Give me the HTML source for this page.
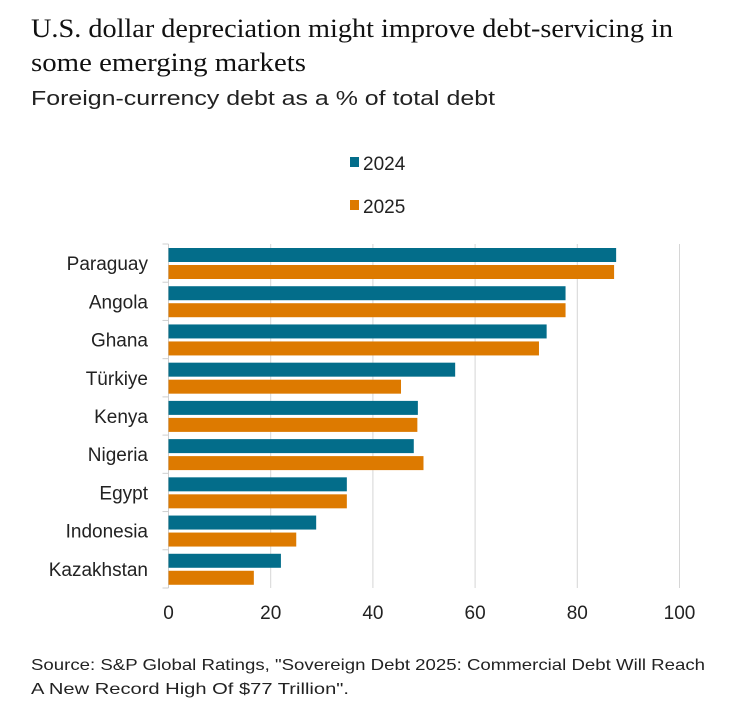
<!DOCTYPE html>
<html><head><meta charset="utf-8"><style>
html,body{margin:0;padding:0;background:#fff;}
svg{display:block;font-family:"Liberation Sans",sans-serif;}
</style></head><body>
<svg id="chart" width="734" height="714" viewBox="0 0 734 714" xmlns="http://www.w3.org/2000/svg">
<rect width="734" height="714" fill="#fff"/>
<text x="31" y="37" font-family="Liberation Serif, serif" font-size="26" fill="#111" textLength="642" lengthAdjust="spacingAndGlyphs">U.S. dollar depreciation might improve debt-servicing in</text>
<text x="31" y="71" font-family="Liberation Serif, serif" font-size="26" fill="#111" textLength="275" lengthAdjust="spacingAndGlyphs">some emerging markets</text>
<text x="31" y="105" font-size="20" fill="#222" textLength="464" lengthAdjust="spacingAndGlyphs">Foreign-currency debt as a % of total debt</text>
<g>
<rect x="350" y="157" width="9" height="10" fill="#036d8a"/>
<text x="363" y="170" font-size="19" fill="#222">2024</text>
<rect x="350" y="200" width="9" height="10" fill="#dd7a00"/>
<text x="363" y="213" font-size="19" fill="#222">2025</text>
</g>
<g id="grid"></g>
<g id="bars"></g>
<g id="labels"></g>
<text x="31" y="670" font-size="16" fill="#222" textLength="674" lengthAdjust="spacingAndGlyphs">Source: S&amp;P Global Ratings, "Sovereign Debt 2025: Commercial Debt Will Reach</text>
<text x="31" y="694" font-size="16" fill="#222" textLength="318" lengthAdjust="spacingAndGlyphs">A New Record High Of $77 Trillion".</text>
</svg>
<script>
const categories = ["Paraguay","Angola","Ghana","Türkiye","Kenya","Nigeria","Egypt","Indonesia","Kazakhstan"];
const values2024 = [87.6,77.7,74.0,56.1,48.8,48.0,34.9,28.9,22.0];
const values2025 = [87.2,77.7,72.5,45.5,48.7,49.9,34.9,25.0,16.7];
const xTicks = [0,20,40,60,80,100];

const NS="http://www.w3.org/2000/svg";
const x0=168.5, x1=679.5, yTop=244, yBottom=588;
const xScale=v=>x0+(v/100)*(x1-x0);
const band=(yBottom-yTop)/categories.length;
const yBand=i=>yTop+i*band;
function mk(tag,attrs,parent){const e=document.createElementNS(NS,tag);for(const k in attrs)e.setAttribute(k,attrs[k]);parent.appendChild(e);return e;}
const grid=document.getElementById('grid'),bars=document.getElementById('bars'),labels=document.getElementById('labels');
xTicks.forEach(t=>{
  if(t>0){const l=mk('line',{x1:xScale(t),x2:xScale(t),y1:yTop,y2:yBottom,stroke:'#d6d6d6','stroke-width':1},grid);
  
  }
  const tx=mk('text',{x:xScale(t),y:619,'text-anchor':'middle','font-size':19,fill:'#222'},labels);
  tx.textContent=t;
  
  
});
const ax=mk('line',{x1:x0,x2:x0,y1:yTop,y2:yBottom,stroke:'#cfcfcf','stroke-width':1},grid);


for(let i=0;i<=categories.length;i++){
  const tk=mk('line',{x1:x0-6,x2:x0,y1:yBand(i),y2:yBand(i),stroke:'#cfcfcf','stroke-width':1},grid);
  
  
}
categories.forEach((c,i)=>{
  const y=yBand(i);
  const b1=mk('rect',{x:x0,y:y+4,width:xScale(values2024[i])-x0,height:14,fill:'#036d8a'},bars);
  
  
  const b2=mk('rect',{x:x0,y:y+21,width:xScale(values2025[i])-x0,height:14,fill:'#dd7a00'},bars);
  
  
  const t=mk('text',{x:148,y:y+band/2+7,'text-anchor':'end','font-size':19,fill:'#222'},labels);
  t.textContent=c;
  
  
});
</script>
</body></html>
